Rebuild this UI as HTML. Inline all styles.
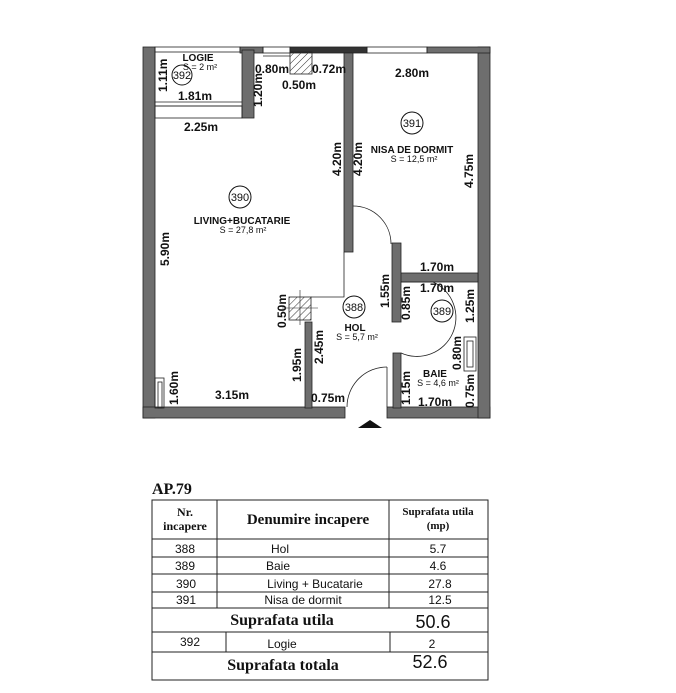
<!DOCTYPE html>
<html><head><meta charset="utf-8"><style>
html,body{margin:0;padding:0;background:#fff;width:676px;height:693px;overflow:hidden}
svg{display:block}
.d{font-family:"Liberation Sans",sans-serif;font-weight:bold;font-size:12px;fill:#111}
.n{font-family:"Liberation Sans",sans-serif;font-weight:bold;font-size:10px;fill:#111}
.s{font-family:"Liberation Sans",sans-serif;font-size:9px;fill:#111}
.c{font-family:"Liberation Sans",sans-serif;font-size:11px;fill:#111}
.t{font-family:"Liberation Sans",sans-serif;font-size:12px;fill:#111}
.tb{font-family:"Liberation Serif",serif;font-weight:bold;fill:#111}
</style></head><body>
<svg width="676" height="693" viewBox="0 0 676 693" xmlns="http://www.w3.org/2000/svg">
<defs>
<pattern id="h" width="5" height="5" patternUnits="userSpaceOnUse" patternTransform="rotate(45)">
<line x1="0" y1="0" x2="0" y2="5" stroke="#333" stroke-width="1"/></pattern>
</defs>
<g fill="#6e6e6e" stroke="#222" stroke-width="0.8">
<rect x="143" y="47" width="12" height="371"/>
<rect x="143" y="407" width="202" height="11"/>
<rect x="387" y="407" width="103" height="11"/>
<rect x="478" y="47" width="12" height="371"/>
<rect x="240" y="47" width="23" height="6"/>
<rect x="290" y="47" width="77" height="6" fill="#333"/>
<rect x="427" y="47" width="63" height="6"/>
<rect x="242" y="50" width="12" height="68"/>
<rect x="344" y="53" width="9" height="199"/>
<rect x="305" y="322" width="7" height="86"/>
<rect x="393" y="273" width="85" height="9"/>
<rect x="392" y="243" width="9" height="79"/>
<rect x="393" y="353" width="8" height="55"/>
</g>
<g fill="none" stroke="#222" stroke-width="0.8">
<rect x="155" y="47" width="85" height="5"/>
<rect x="263" y="47" width="27" height="6"/>
<rect x="367" y="47" width="60" height="6"/>
<line x1="263" y1="56" x2="290" y2="56"/>
<line x1="155" y1="102" x2="242" y2="102"/>
<line x1="155" y1="106" x2="242" y2="106"/>
<rect x="155" y="106" width="87" height="12"/>
<line x1="155" y1="50" x2="155" y2="106"/>
<polyline points="344,252 344,297 311,297"/>
<path d="M353,206 A38,38 0 0 1 391,244"/>
<path d="M433,282 A32,32 0 0 1 401,353"/>
<line x1="401" y1="282" x2="433" y2="282"/>
<path d="M347,407 A40,40 0 0 1 387,367"/>
<line x1="387" y1="367" x2="387" y2="407"/>
<rect x="155" y="378" width="9" height="30"/>
<rect x="158" y="382" width="4" height="26"/>
<rect x="464" y="337" width="12" height="34"/>
<rect x="467" y="341" width="6" height="26"/>
</g>
<rect x="290" y="52" width="22" height="22" fill="url(#h)" stroke="#222" stroke-width="0.8"/>
<rect x="289" y="297" width="22" height="23" fill="url(#h)" stroke="#222" stroke-width="0.8"/>
<line x1="282" y1="308" x2="318" y2="308" stroke="#222" stroke-width="0.6"/>
<line x1="300" y1="290" x2="300" y2="325" stroke="#222" stroke-width="0.6"/>
<polygon points="358,428 370,420 382,428" fill="#111"/>
<g fill="none" stroke="#111" stroke-width="1">
<circle cx="182" cy="75" r="10"/><circle cx="412" cy="123" r="11"/>
<circle cx="240" cy="197" r="11"/><circle cx="354" cy="307" r="11"/>
<circle cx="442" cy="311" r="11"/>
</g>
<g class="c" text-anchor="middle">
<text x="182" y="79">392</text><text x="412" y="127">391</text>
<text x="240" y="201">390</text><text x="354" y="311">388</text><text x="442" y="315">389</text>
</g>
<g text-anchor="middle">
<text class="n" x="198" y="61">LOGIE</text><text class="s" x="200" y="70">S = 2  m²</text>
<text class="n" x="412" y="153">NISA DE DORMIT</text><text class="s" x="414" y="162">S = 12,5  m²</text>
<text class="n" x="242" y="224">LIVING+BUCATARIE</text><text class="s" x="243" y="233">S = 27,8 m²</text>
<text class="n" x="355" y="331">HOL</text><text class="s" x="357" y="340">S = 5,7  m²</text>
<text class="n" x="435" y="377">BAIE</text><text class="s" x="438" y="386">S = 4,6 m²</text>
</g>
<g class="d">
<text x="255" y="73">0.80m</text><text x="312" y="73">0.72m</text>
<text x="282" y="89">0.50m</text><text x="395" y="77">2.80m</text>
<text x="178" y="100">1.81m</text><text x="184" y="131">2.25m</text>
<text x="420" y="271">1.70m</text><text x="420" y="292">1.70m</text>
<text x="418" y="406">1.70m</text><text x="215" y="399">3.15m</text>
<text x="311" y="402">0.75m</text>
</g>
<g class="d">
<text transform="translate(167,92) rotate(-90)">1.11m</text>
<text transform="translate(262,107) rotate(-90)">1.20m</text>
<text transform="translate(341,176) rotate(-90)">4.20m</text>
<text transform="translate(362,176) rotate(-90)">4.20m</text>
<text transform="translate(473,188) rotate(-90)">4.75m</text>
<text transform="translate(169,266) rotate(-90)">5.90m</text>
<text transform="translate(286,328) rotate(-90)">0.50m</text>
<text transform="translate(301,382) rotate(-90)">1.95m</text>
<text transform="translate(323,364) rotate(-90)">2.45m</text>
<text transform="translate(389,308) rotate(-90)">1.55m</text>
<text transform="translate(410,320) rotate(-90)">0.85m</text>
<text transform="translate(474,323) rotate(-90)">1.25m</text>
<text transform="translate(461,370) rotate(-90)">0.80m</text>
<text transform="translate(410,405) rotate(-90)">1.15m</text>
<text transform="translate(474,408) rotate(-90)">0.75m</text>
<text transform="translate(178,405) rotate(-90)">1.60m</text>
</g>
<text class="tb" x="152" y="494" font-size="16">AP.79</text>
<g fill="none" stroke="#222" stroke-width="1">
<rect x="152" y="500" width="336" height="180"/>
<line x1="152" y1="539" x2="488" y2="539"/>
<line x1="152" y1="557" x2="488" y2="557"/>
<line x1="152" y1="574" x2="488" y2="574"/>
<line x1="152" y1="592" x2="488" y2="592"/>
<line x1="152" y1="608" x2="488" y2="608"/>
<line x1="152" y1="632" x2="488" y2="632"/>
<line x1="152" y1="652" x2="488" y2="652"/>
<line x1="217" y1="500" x2="217" y2="608"/>
<line x1="389" y1="500" x2="389" y2="608"/>
<line x1="226" y1="632" x2="226" y2="652"/>
<line x1="390" y1="632" x2="390" y2="652"/>
</g>
<g text-anchor="middle">
<text class="tb" font-size="12" x="185" y="516">Nr.</text>
<text class="tb" font-size="12" x="185" y="530">incapere</text>
<text class="tb" font-size="15" x="308" y="524">Denumire incapere</text>
<text class="tb" font-size="11" x="438" y="515">Suprafata utila</text>
<text class="tb" font-size="11" x="438" y="529">(mp)</text>
<text class="t" x="185" y="553">388</text><text class="t" x="280" y="553">Hol</text><text class="t" x="438" y="553">5.7</text>
<text class="t" x="185" y="570">389</text><text class="t" x="278" y="570">Baie</text><text class="t" x="438" y="570">4.6</text>
<text class="t" x="186" y="588">390</text><text class="t" x="315" y="588">Living + Bucatarie</text><text class="t" x="440" y="588">27.8</text>
<text class="t" x="186" y="604">391</text><text class="t" x="303" y="604">Nisa de dormit</text><text class="t" x="440" y="604">12.5</text>
<text class="tb" font-size="16" x="282" y="625">Suprafata utila</text>
<text class="t" style="font-size:18px" x="433" y="628">50.6</text>
<text class="t" x="190" y="646">392</text><text class="t" x="282" y="648">Logie</text><text class="t" x="432" y="648">2</text>
<text class="tb" font-size="16" x="283" y="670">Suprafata totala</text>
<text class="t" style="font-size:18px" x="430" y="668">52.6</text>
</g>
</svg>
</body></html>
